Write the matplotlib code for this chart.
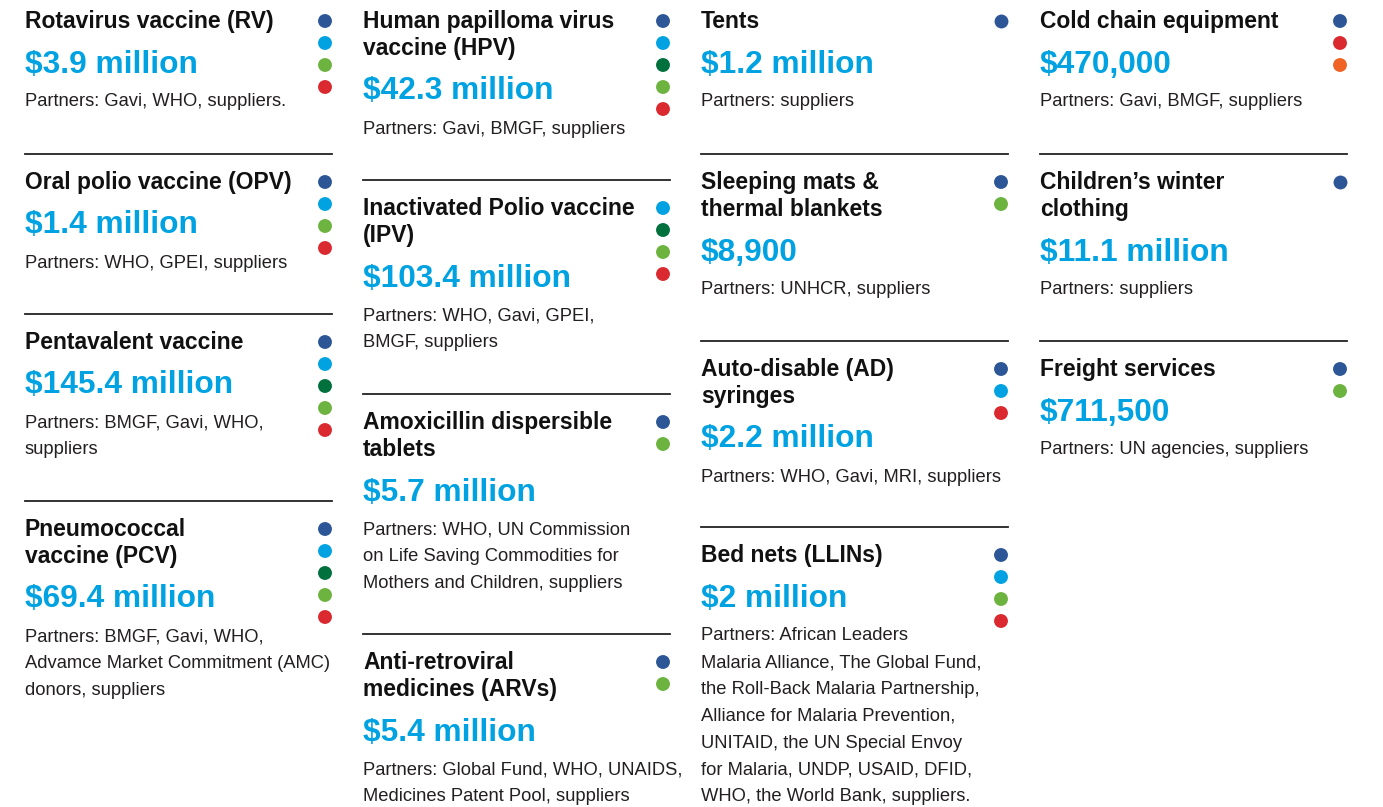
import matplotlib.pyplot as plt
from matplotlib import font_manager

# card content, column by column
titles = [
    ["Rotavirus vaccine (RV)", "Oral polio vaccine (OPV)", "Pentavalent vaccine", "Pneumococcal\nvaccine (PCV)"],
    ["Human papilloma virus\nvaccine (HPV)", "Inactivated Polio vaccine\n(IPV)", "Amoxicillin dispersible\ntablets", "Anti-retroviral\nmedicines (ARVs)"],
    ["Tents", "Sleeping mats &\nthermal blankets", "Auto-disable (AD)\nsyringes", "Bed nets (LLINs)"],
    ["Cold chain equipment", "Children\u2019s winter\nclothing", "Freight services"],
]
values = [
    ["$3.9 million", "$1.4 million", "$145.4 million", "$69.4 million"],
    ["$42.3 million", "$103.4 million", "$5.7 million", "$5.4 million"],
    ["$1.2 million", "$8,900", "$2.2 million", "$2 million"],
    ["$470,000", "$11.1 million", "$711,500"],
]
partners = [
    ["Partners: Gavi, WHO, suppliers.",
     "Partners: WHO, GPEI, suppliers",
     "Partners: BMGF, Gavi, WHO,\nsuppliers",
     "Partners: BMGF, Gavi, WHO,\nAdvamce Market Commitment (AMC)\ndonors, suppliers"],
    ["Partners: Gavi, BMGF, suppliers",
     "Partners: WHO, Gavi, GPEI,\nBMGF, suppliers",
     "Partners: WHO, UN Commission\non Life Saving Commodities for\nMothers and Children, suppliers",
     "Partners: Global Fund, WHO, UNAIDS,\nMedicines Patent Pool, suppliers"],
    ["Partners: suppliers",
     "Partners: UNHCR, suppliers",
     "Partners: WHO, Gavi, MRI, suppliers",
     "Partners: African Leaders\nMalaria Alliance, The Global Fund,\nthe Roll-Back Malaria Partnership,\nAlliance for Malaria Prevention,\nUNITAID, the UN Special Envoy\nfor Malaria, UNDP, USAID, DFID,\nWHO, the World Bank, suppliers."],
    ["Partners: Gavi, BMGF, suppliers",
     "Partners: suppliers",
     "Partners: UN agencies, suppliers"],
]
# dot codes: b=dark blue, c=cyan, g=dark green, l=light green, r=red, o=orange
dots = [
    ["bclr", "bclr", "bcglr", "bcglr"],
    ["bcglr", "cglr", "bl", "bl"],
    ["b", "bl", "bcr", "bclr"],
    ["bro", "b", "bl"],
]
dot_colors = {"b": "#2d5697", "c": "#00a2e1", "g": "#00703c", "l": "#6db33f",
              "r": "#da2a2f", "o": "#ef6324"}

# layout (pixels): x of each column, y of the first dot of each card
col_x = [25, 363, 701, 1040]
card_top = [[21, 182, 342, 529], [21, 208, 422, 662], [21, 182, 369, 555], [21, 182, 369]]

names = {f.name for f in font_manager.fontManager.ttflist}
narrow = "Liberation Sans Narrow" if "Liberation Sans Narrow" in names else "Liberation Sans"

fig = plt.figure(figsize=(13.83, 8.07), dpi=100)
ax = fig.add_axes([0, 0, 1, 1])
ax.set_xlim(0, 1383)
ax.set_ylim(807, 0)
ax.axis("off")

for ci in range(4):
    x = col_x[ci]
    for k in range(len(titles[ci])):
        top = card_top[ci][k]
        base = top + 7
        if k > 0:
            ax.plot([x, x + 307], [base - 35, base - 35], color="#222222", lw=1.3)
        tl = titles[ci][k].split("\n")
        for i, line in enumerate(tl):
            ax.text(x, base + 27 * i, line, fontsize=16.5, fontweight="bold",
                    family="Liberation Sans", color="#111111", va="baseline")
        vy = base + 27 * (len(tl) - 1) + 44.5
        ax.text(x, vy, values[ci][k], fontsize=22.8, fontweight="bold",
                family="Liberation Sans", color="#00a2e1", va="baseline")
        for i, line in enumerate(partners[ci][k].split("\n")):
            ax.text(x, vy + 34 + 26.8 * i, line, fontsize=13.2,
                    family=narrow, color="#231f20", va="baseline")
        code = dots[ci][k]
        ax.scatter([x + 300] * len(code), [top + 22 * i for i in range(len(code))],
                   s=100, c=[dot_colors[d] for d in code], linewidths=0)

fig.savefig("out.png", dpi=100)
